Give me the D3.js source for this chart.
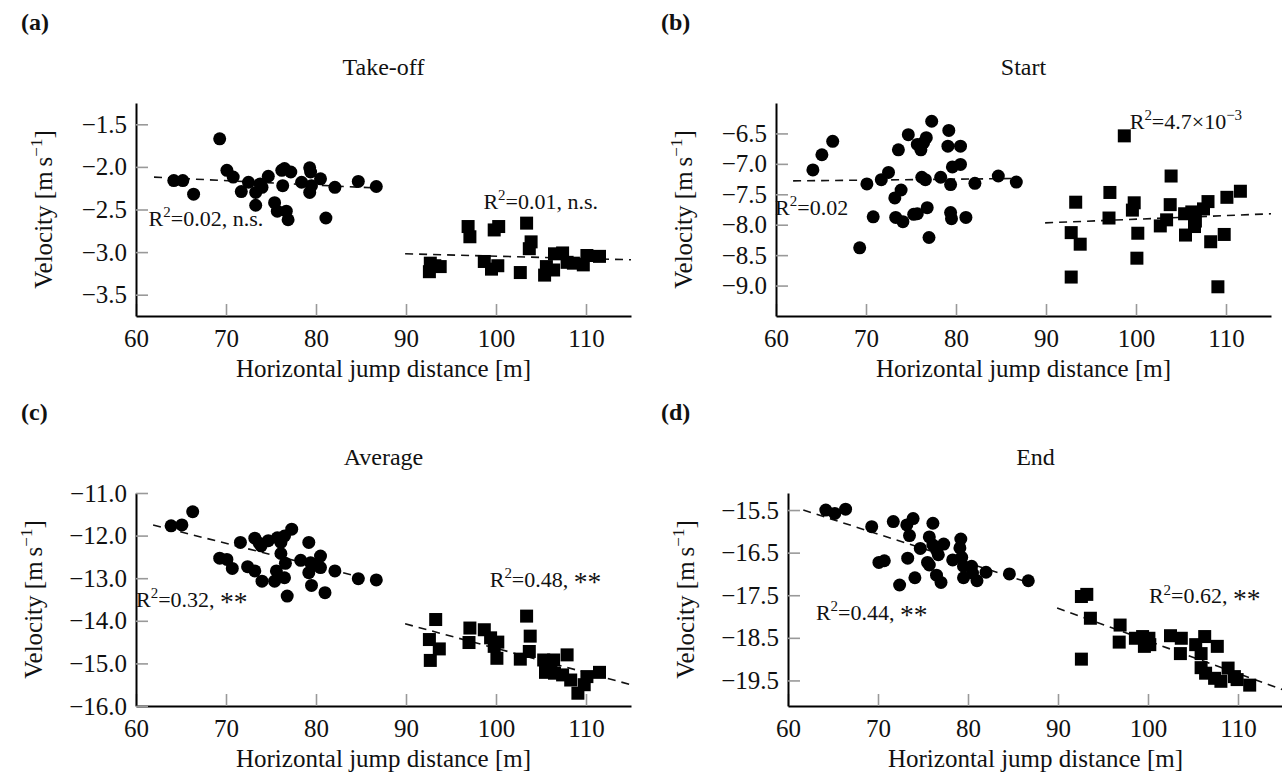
<!DOCTYPE html>
<html>
<head>
<meta charset="utf-8">
<script src="https://cdn.jsdelivr.net/npm/d3@7"></script>
<style>
  body { margin: 0; background: #fff; }
  svg { display: block; }
  text { font-family: "Liberation Serif", "Times New Roman", serif; fill: #111; }
</style>
</head>
<body>
<svg id="chart" width="1282" height="774"></svg>
<script>
// x axis shared by all panels
var xDomain = [60, 115];
var xTicks = [60, 70, 80, 90, 100, 110];

// (a) Take-off
var takeoffTicks = [-1.5, -2.0, -2.5, -3.0, -3.5];
var takeoffSmall = [[64.2,-2.16],[65.2,-2.16],[66.4,-2.32],[69.3,-1.67],[70.1,-2.04],[70.8,-2.12],[71.7,-2.29],
  [72.5,-2.18],[73.3,-2.30],[73.3,-2.45],[73.8,-2.20],[74.0,-2.24],[74.7,-2.11],[75.4,-2.42],[75.7,-2.52],
  [76.2,-2.04],[76.3,-2.22],[76.5,-2.02],[76.7,-2.52],[76.9,-2.62],[77.2,-2.06],[78.4,-2.18],[79.3,-2.01],
  [79.4,-2.06],[79.3,-2.30],[79.5,-2.22],[80.5,-2.14],[81.1,-2.60],[82.1,-2.24],[84.7,-2.17],[86.7,-2.23]];
var takeoffLarge = [[92.6,-3.23],[92.7,-3.13],[93.2,-3.16],[93.8,-3.17],[96.9,-2.70],[97.1,-2.82],[98.7,-3.11],
  [99.5,-3.20],[99.8,-2.74],[100.2,-3.16],[100.3,-2.70],[102.7,-3.24],[103.4,-2.66],[103.7,-2.96],[103.9,-2.88],
  [105.4,-3.27],[105.6,-3.17],[106.4,-3.21],[106.5,-3.02],[107.4,-3.01],[107.9,-3.12],[108.6,-3.13],
  [109.7,-3.15],[110.1,-3.04],[111.5,-3.05]];
var takeoffFits = [[62.0,-2.12,87.1,-2.25],[89.9,-3.02,115,-3.09]];

// (b) Start
var startTicks = [-6.5, -7.0, -7.5, -8.0, -8.5, -9.0];
var startSmall = [[64.1,-7.10],[65.1,-6.85],[66.3,-6.63],[69.3,-8.38],[70.1,-7.33],[70.8,-7.87],[71.7,-7.26],
  [72.5,-7.14],[73.2,-7.56],[73.3,-7.88],[73.6,-6.77],[73.9,-7.43],[74.1,-7.95],[74.7,-6.52],[75.3,-7.83],
  [75.7,-7.82],[75.7,-6.68],[76.1,-6.77],[76.2,-7.22],[76.4,-6.65],[76.7,-6.57],[76.6,-7.26],[76.8,-7.72],
  [77.0,-8.21],[77.3,-6.30],[78.3,-7.22],[79.2,-6.45],[79.1,-6.71],[79.4,-7.34],[79.4,-7.80],[79.5,-7.90],
  [79.6,-7.05],[80.5,-6.71],[80.5,-7.01],[81.1,-7.88],[82.1,-7.32],[84.7,-7.20],[86.7,-7.30]];
var startLarge = [[92.8,-8.13],[92.8,-8.86],[93.3,-7.63],[93.8,-8.32],[97.1,-7.47],[97.0,-7.89],[98.7,-6.54],
  [99.6,-7.76],[99.8,-7.64],[100.2,-8.14],[100.1,-8.55],[102.7,-8.02],[103.4,-7.92],[103.8,-7.67],[103.9,-7.20],
  [105.5,-8.17],[105.4,-7.82],[106.2,-7.79],[106.5,-8.03],[106.6,-7.94],[107.5,-7.74],[108.0,-7.62],
  [108.3,-8.28],[109.1,-9.02],[109.8,-8.16],[110.1,-7.55],[111.6,-7.45]];
var startFits = [[61.9,-7.28,87.1,-7.24],[89.9,-7.97,115,-7.82]];

// (c) Average
var averageTicks = [-11.0, -12.0, -13.0, -14.0, -15.0, -16.0];
var averageSmall = [[63.9,-11.77],[65.1,-11.75],[66.3,-11.44],[69.3,-12.53],[70.1,-12.56],[70.7,-12.77],
  [71.6,-12.16],[72.4,-12.73],[73.2,-12.83],[73.2,-12.06],[73.7,-12.18],[73.9,-12.24],[74.0,-13.07],
  [74.7,-12.12],[75.4,-13.07],[75.6,-12.83],[75.7,-12.05],[76.1,-12.42],[76.1,-12.16],[76.5,-12.01],
  [76.6,-12.65],[76.5,-12.99],[76.8,-13.42],[77.3,-11.85],[78.3,-12.58],[79.2,-12.16],[79.2,-12.87],
  [79.4,-12.64],[79.5,-13.17],[79.8,-12.70],[80.5,-12.48],[80.5,-12.75],[81.0,-13.34],[82.1,-12.83],
  [84.7,-13.01],[86.7,-13.04]];
var averageLarge = [[92.6,-14.44],[92.7,-14.93],[93.3,-13.97],[93.7,-14.66],[97.1,-14.17],[97.0,-14.51],
  [98.7,-14.21],[99.4,-14.40],[99.8,-14.60],[100.2,-14.50],[100.1,-14.88],[102.7,-14.90],[103.4,-13.89],
  [103.8,-14.36],[103.7,-14.72],[105.3,-14.92],[105.5,-15.21],[106.4,-14.92],[106.5,-15.23],[106.1,-15.13],
  [107.4,-15.27],[107.9,-14.80],[108.3,-15.39],[109.1,-15.70],[109.8,-15.50],[110.1,-15.31],[111.5,-15.21]];
var averageFits = [[61.9,-11.75,87.1,-13.09],[89.9,-14.07,115,-15.50]];

// (d) End
var endTicks = [-15.5, -16.5, -17.5, -18.5, -19.5];
var endSmall = [[64.2,-15.50],[65.2,-15.58],[66.4,-15.48],[69.3,-15.89],[70.1,-16.73],[70.7,-16.69],
  [71.7,-15.77],[72.4,-17.26],[73.2,-15.85],[73.3,-16.63],[73.5,-16.10],[73.9,-15.70],[74.1,-17.09],
  [74.7,-16.40],[75.5,-16.73],[75.7,-16.79],[75.7,-16.13],[76.1,-15.81],[76.1,-16.32],[76.5,-16.44],
  [76.5,-17.03],[76.7,-16.55],[77.0,-17.20],[77.3,-16.30],[78.3,-16.67],[79.2,-16.18],[79.1,-16.39],
  [79.3,-16.61],[79.5,-17.09],[79.5,-16.82],[80.4,-16.82],[80.5,-16.98],[81.0,-17.16],[82.0,-16.96],
  [84.6,-17.00],[86.7,-17.16]];
var endLarge = [[92.6,-17.53],[93.2,-17.48],[92.6,-19.00],[93.6,-18.04],[96.9,-18.20],[96.8,-18.60],
  [98.6,-18.51],[99.4,-18.47],[99.6,-18.70],[100.1,-18.51],[100.2,-18.66],[102.5,-18.45],[103.7,-18.51],
  [103.6,-18.87],[105.3,-18.66],[105.9,-18.87],[106.3,-18.47],[105.9,-19.20],[106.4,-19.33],[107.4,-19.45],
  [107.7,-18.70],[108.1,-19.52],[108.9,-19.21],[109.6,-19.41],[109.9,-19.48],[111.3,-19.61]];
var endFits = [[61.7,-15.50,87.0,-17.22],[89.9,-17.80,115,-19.72]];

// text runs: 0 = plain, 1 = superscript, 2 = lowered asterisks
var SUP2 = [["R", 0], ["2", 1]];

var panels = [
  { tag: "(a)", title: "Take-off", left: 136, top: 103, yDomain: [-3.75, -1.25], yTicks: takeoffTicks,
    small: takeoffSmall, large: takeoffLarge, fits: takeoffFits, yTitleX: 52,
    notes: [{ x: 61.4, y: -2.69, parts: SUP2.concat([["=0.02, n.s.", 0]]) },
            { x: 98.6, y: -2.49, parts: SUP2.concat([["=0.01, n.s.", 0]]) }] },
  { tag: "(b)", title: "Start", left: 776, top: 103, yDomain: [-9.5, -6.0], yTicks: startTicks,
    small: startSmall, large: startLarge, fits: startFits, yTitleX: 692,
    notes: [{ x: 59.9, y: -7.84, parts: SUP2.concat([["=0.02", 0]]) },
            { x: 99.3, y: -6.43, parts: SUP2.concat([["=4.7\u00d710", 0], ["\u22123", 1]]) }] },
  { tag: "(c)", title: "Average", left: 136, top: 493, yDomain: [-16.0, -11.0], yTicks: averageTicks,
    small: averageSmall, large: averageLarge, fits: averageFits, yTitleX: 42,
    notes: [{ x: 60.0, y: -13.67, parts: SUP2.concat([["=0.32, ", 0], ["**", 2]]) },
            { x: 99.3, y: -13.2, parts: SUP2.concat([["=0.48, ", 0], ["**", 2]]) }] },
  { tag: "(d)", title: "End", left: 788, top: 493, yDomain: [-20.1, -15.1], yTicks: endTicks,
    small: endSmall, large: endLarge, fits: endFits, yTitleX: 694,
    notes: [{ x: 63.1, y: -18.08, parts: SUP2.concat([["=0.44, ", 0], ["**", 2]]) },
            { x: 100.1, y: -17.69, parts: SUP2.concat([["=0.62, ", 0], ["**", 2]]) }] }
];

var plotW = 495, plotH = 213;
var svg = d3.select("#chart");

// writes plain/superscript runs into a text element
function richText(sel, parts, size) {
  var shift = 0;
  parts.forEach(function (p) {
    var t = sel.append("tspan").text(p[0]);
    var want = p[1] == 1 ? -size * 0.4 : (p[1] == 2 ? size * 0.2 : 0);
    if (want != shift) t.attr("dy", want - shift);
    if (p[1] == 1) t.attr("font-size", size * 0.68);
    if (p[1] == 2) t.attr("font-size", size * 1.25);
    shift = want;
  });
}

function drawPanel(p) {
  var x = d3.scaleLinear().domain(xDomain).range([p.left, p.left + plotW]);
  var y = d3.scaleLinear().domain(p.yDomain).range([p.top + plotH, p.top]);
  var g = svg.append("g");
  var panelX = p.left < 640 ? 0 : 640;
  var panelY = p.top < 390 ? 0 : 390;

  g.append("text").attr("x", panelX + 21).attr("y", panelY + 30)
    .attr("font-size", 24).attr("font-weight", "bold").text(p.tag);
  g.append("text").attr("x", p.left + plotW / 2).attr("y", p.top - 28)
    .attr("text-anchor", "middle").attr("font-size", 24).text(p.title);

  // axes, ticks drawn inward
  var xAxis = g.append("g").attr("transform", "translate(0," + (p.top + plotH) + ")")
    .call(d3.axisBottom(x).tickValues(xTicks).tickSizeInner(-12).tickSizeOuter(0).tickPadding(26)
      .tickFormat(d3.format("d")));
  var yAxis = g.append("g").attr("transform", "translate(" + p.left + ",0)")
    .call(d3.axisLeft(y).tickValues(p.yTicks).tickSizeInner(-12).tickSizeOuter(0).tickPadding(9)
      .tickFormat(d3.format(".1f")));
  [xAxis, yAxis].forEach(function (a) {
    a.select(".domain").attr("stroke", "#000").attr("stroke-width", 2);
    a.selectAll(".tick line").attr("stroke", "#999").attr("stroke-width", 1.6);
    a.selectAll(".tick text").attr("font-size", 25).attr("fill", "#111");
  });
  xAxis.selectAll(".tick text").attr("dy", "0.2em");

  g.append("text").attr("x", p.left + plotW / 2).attr("y", p.top + plotH + 61)
    .attr("text-anchor", "middle").attr("font-size", 25).text("Horizontal jump distance [m]");

  var yt = g.append("text")
    .attr("transform", "translate(" + p.yTitleX + "," + (p.top + plotH / 2) + ") rotate(-90)")
    .attr("text-anchor", "middle").attr("font-size", 25);
  richText(yt, [["Velocity [m\u2009s", 0], ["\u22121", 1], ["]", 0]], 25);

  // regression lines
  g.selectAll("line.fit").data(p.fits).enter().append("line").attr("class", "fit")
    .attr("x1", function (d) { return x(d[0]); }).attr("y1", function (d) { return y(d[1]); })
    .attr("x2", function (d) { return x(d[2]); }).attr("y2", function (d) { return y(d[3]); })
    .attr("stroke", "#111").attr("stroke-width", 1.6).attr("stroke-dasharray", "8,6");

  g.selectAll("circle.small").data(p.small).enter().append("circle").attr("class", "small")
    .attr("cx", function (d) { return x(d[0]); }).attr("cy", function (d) { return y(d[1]); })
    .attr("r", 6.5).attr("fill", "#000");

  var s = 13;
  g.selectAll("rect.large").data(p.large).enter().append("rect").attr("class", "large")
    .attr("x", function (d) { return x(d[0]) - s / 2; }).attr("y", function (d) { return y(d[1]) - s / 2; })
    .attr("width", s).attr("height", s).attr("fill", "#000");

  p.notes.forEach(function (n) {
    var t = g.append("text").attr("x", x(n.x)).attr("y", y(n.y)).attr("font-size", 22);
    richText(t, n.parts, 22);
  });
}

panels.forEach(drawPanel);
</script>
</body>
</html>
